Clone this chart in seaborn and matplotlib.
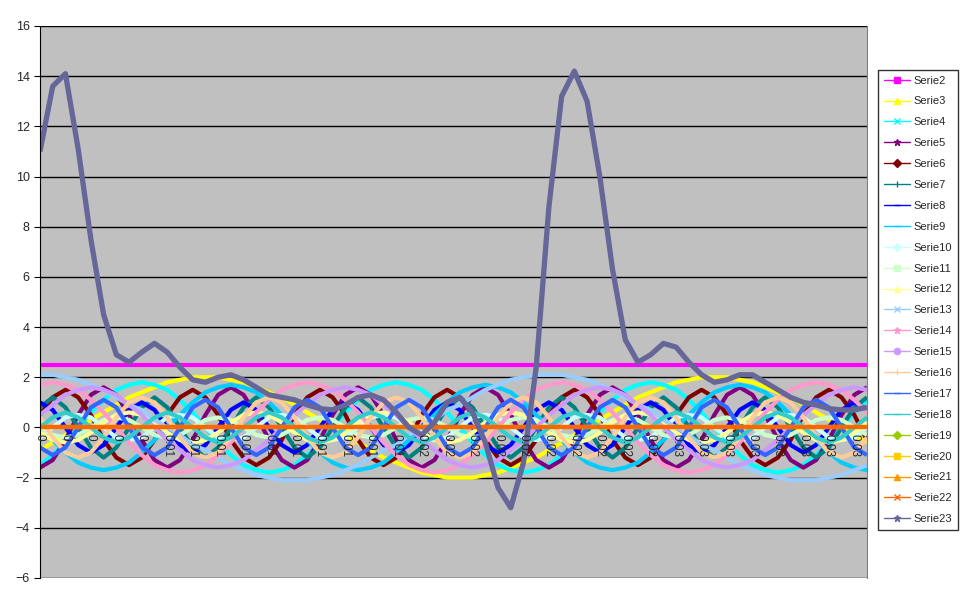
import math
import numpy as np
import pandas as pd
import matplotlib
matplotlib.use("Agg")
import matplotlib.pyplot as plt
from matplotlib.lines import Line2D
import seaborn as sns

sns.set_style("white")
plt.rcParams['font.family'] = ['Liberation Sans', 'DejaVu Sans']

n_points = 66
time_step = 0.0005

serie2 = [2.5] * 66
serie3 = [-0.9,-0.6,-0.3,0,0.3,0.6,0.9,1.2,1.4,1.6,1.8,1.9,2.0,
          2.0,2.0,1.9,1.8,1.6,1.4,1.2,0.9,0.6,0.3,0,-0.3,-0.6,-0.9,-1.2,-1.4,-1.6,-1.8,-1.9,-2.0,
          -2.0,-2.0,-1.9,-1.8,-1.6,-1.4,-1.2,-0.9,-0.6,-0.3,0,0.3,0.6,0.9,1.2,1.4,1.6,1.8,1.9,2.0,
          2.0,2.0,1.9,1.8,1.6,1.4,1.2,0.9,0.6,0.3,0,-0.3,-0.6]
serie4 = [-1.5,-1.1,-0.6,0,0.6,1.1,1.5,1.7,
          1.8,1.7,1.5,1.1,0.6,0,-0.6,-1.1,-1.5,-1.7,-1.8,-1.7,-1.5,-1.1,-0.6,0,0.6,1.1,1.5,1.7,
          1.8,1.7,1.5,1.1,0.6,0,-0.6,-1.1,-1.5,-1.7,-1.8,-1.7,-1.5,-1.1,-0.6,0,0.6,1.1,1.5,1.7,
          1.8,1.7,1.5,1.1,0.6,0,-0.6,-1.1,-1.5,-1.7,-1.8,-1.7,-1.5,-1.1,-0.6,0,0.6,1.1]
serie5 = [-1.6,-1.3,-0.5,0.5,1.3,
          1.6,1.3,0.5,-0.5,-1.3,-1.6,-1.3,-0.5,0.5,1.3,
          1.6,1.3,0.5,-0.5,-1.3,-1.6,-1.3,-0.5,0.5,1.3,
          1.6,1.3,0.5,-0.5,-1.3,-1.6,-1.3,-0.5,0.5,1.3,
          1.6,1.3,0.5,-0.5,-1.3,-1.6,-1.3,-0.5,0.5,1.3,
          1.6,1.3,0.5,-0.5,-1.3,-1.6,-1.3,-0.5,0.5,1.3,
          1.6,1.3,0.5,-0.5,-1.3,-1.6,-1.3,-0.5,0.5,1.3,
          1.6]
serie6 = [0.5,1.2,
          1.5,1.2,0.5,-0.5,-1.2,-1.5,-1.2,-0.5,0.5,1.2,
          1.5,1.2,0.5,-0.5,-1.2,-1.5,-1.2,-0.5,0.5,1.2,
          1.5,1.2,0.5,-0.5,-1.2,-1.5,-1.2,-0.5,0.5,1.2,
          1.5,1.2,0.5,-0.5,-1.2,-1.5,-1.2,-0.5,0.5,1.2,
          1.5,1.2,0.5,-0.5,-1.2,-1.5,-1.2,-0.5,0.5,1.2,
          1.5,1.2,0.5,-0.5,-1.2,-1.5,-1.2,-0.5,0.5,1.2,
          1.5,1.2,0.5,-0.5]
serie7 = [0.8,
          1.2,0.8,0,-0.8,-1.2,-0.8,0,0.8, 1.2,0.8,0,-0.8,-1.2,-0.8,0,0.8,
          1.2,0.8,0,-0.8,-1.2,-0.8,0,0.8, 1.2,0.8,0,-0.8,-1.2,-0.8,0,0.8,
          1.2,0.8,0,-0.8,-1.2,-0.8,0,0.8, 1.2,0.8,0,-0.8,-1.2,-0.8,0,0.8,
          1.2,0.8,0,-0.8,-1.2,-0.8,0,0.8, 1.2,0.8,0,-0.8,-1.2,-0.8,0,0.8,
          1.2]
serie8 = [1.0,0.7,0,-0.7,-1.0,-0.7,0,0.7, 1.0,0.7,0,-0.7,-1.0,-0.7,0,0.7,
          1.0,0.7,0,-0.7,-1.0,-0.7,0,0.7, 1.0,0.7,0,-0.7,-1.0,-0.7,0,0.7,
          1.0,0.7,0,-0.7,-1.0,-0.7,0,0.7, 1.0,0.7,0,-0.7,-1.0,-0.7,0,0.7,
          1.0,0.7,0,-0.7,-1.0,-0.7,0,0.7, 1.0,0.7,0,-0.7,-1.0,-0.7,0,0.7,
          1.0,0.7]
serie9 = [0,-0.5,-1.0,-1.4,-1.6,-1.7,-1.6,-1.4,-1.0,-0.5,0,0.5,1.0,1.4,1.6,
          1.7,1.6,1.4,1.0,0.5,0,-0.5,-1.0,-1.4,-1.6,-1.7,-1.6,-1.4,-1.0,-0.5,0,0.5,1.0,1.4,1.6,
          1.7,1.6,1.4,1.0,0.5,0,-0.5,-1.0,-1.4,-1.6,-1.7,-1.6,-1.4,-1.0,-0.5,0,0.5,1.0,1.4,1.6,
          1.7,1.6,1.4,1.0,0.5,0,-0.5,-1.0,-1.4,-1.6,-1.7]
serie10 = [-0.4,0,0.4,
           0.5,0.4,0,-0.4,-0.5,-0.4,0,0.4, 0.5,0.4,0,-0.4,-0.5,-0.4,0,0.4,
           0.5,0.4,0,-0.4,-0.5,-0.4,0,0.4, 0.5,0.4,0,-0.4,-0.5,-0.4,0,0.4,
           0.5,0.4,0,-0.4,-0.5,-0.4,0,0.4, 0.5,0.4,0,-0.4,-0.5,-0.4,0,0.4,
           0.5,0.4,0,-0.4,-0.5,-0.4,0,0.4,
           0.5,0.4,0,-0.4,-0.5,-0.4,0]
serie11 = [0,-0.3,-0.4,-0.3,0,0.3,
           0.4,0.3,0,-0.3,-0.4,-0.3,0,0.3, 0.4,0.3,0,-0.3,-0.4,-0.3,0,0.3,
           0.4,0.3,0,-0.3,-0.4,-0.3,0,0.3, 0.4,0.3,0,-0.3,-0.4,-0.3,0,0.3,
           0.4,0.3,0,-0.3,-0.4,-0.3,0,0.3, 0.4,0.3,0,-0.3,-0.4,-0.3,0,0.3,
           0.4,0.3,0,-0.3,-0.4,-0.3,0,0.3,
           0.4,0.3,0,-0.3]
serie12 = [-0.2,-0.5,-0.6,-0.5,-0.2,0.2,0.5,
           0.6,0.5,0.2,-0.2,-0.5,-0.6,-0.5,-0.2,0.2,0.5,
           0.6,0.5,0.2,-0.2,-0.5,-0.6,-0.5,-0.2,0.2,0.5,
           0.6,0.5,0.2,-0.2,-0.5,-0.6,-0.5,-0.2,0.2,0.5,
           0.6,0.5,0.2,-0.2,-0.5,-0.6,-0.5,-0.2,0.2,0.5,
           0.6,0.5,0.2,-0.2,-0.5,-0.6,-0.5,-0.2,0.2,0.5,
           0.6,0.5,0.2,-0.2,-0.5,-0.6,-0.5,-0.2,0.2]
serie13 = [2.1,2.1,2.0,1.9,1.7,1.5,1.2,0.9,0.7,0.3,0,-0.3,-0.7,-0.9,-1.2,-1.5,-1.7,-1.9,-2.0,-2.1,
           -2.1,-2.1,-2.0,-1.9,-1.7,-1.5,-1.2,-0.9,-0.7,-0.3,0,0.3,0.7,0.9,1.2,1.5,1.7,1.9,2.0,2.1,
           2.1,2.1,2.0,1.9,1.7,1.5,1.2,0.9,0.7,0.3,0,-0.3,-0.7,-0.9,-1.2,-1.5,-1.7,-1.9,-2.0,-2.1,
           -2.1,-2.1,-2.0,-1.9,-1.7,-1.5]
serie14 = [1.7,
           1.8,1.7,1.5,1.1,0.6,0,-0.6,-1.1,-1.5,-1.7,-1.8,-1.7,-1.5,-1.1,-0.6,0,0.6,1.1,1.5,1.7,
           1.8,1.7,1.5,1.1,0.6,0,-0.6,-1.1,-1.5,-1.7,-1.8,-1.7,-1.5,-1.1,-0.6,0,0.6,1.1,1.5,1.7,
           1.8,1.7,1.5,1.1,0.6,0,-0.6,-1.1,-1.5,-1.7,-1.8,-1.7,-1.5,-1.1,-0.6,0,0.6,1.1,1.5,1.7,
           1.8,1.7,1.5,1.1,0.6]
serie15 = [0.5,0.9,1.3,1.5,
           1.6,1.5,1.3,0.9,0.5,0,-0.5,-0.9,-1.3,-1.5,-1.6,-1.5,-1.3,-0.9,-0.5,0,0.5,0.9,1.3,1.5,
           1.6,1.5,1.3,0.9,0.5,0,-0.5,-0.9,-1.3,-1.5,-1.6,-1.5,-1.3,-0.9,-0.5,0,0.5,0.9,1.3,1.5,
           1.6,1.5,1.3,0.9,0.5,0,-0.5,-0.9,-1.3,-1.5,-1.6,-1.5,-1.3,-0.9,-0.5,0,0.5,0.9,1.3,1.5,
           1.6,1.5]
serie16 = [0.4,-0.4,-1.0,-1.2,-1.0,-0.4,0.4,1.0,
           1.2,1.0,0.4,-0.4,-1.0,-1.2,-1.0,-0.4,0.4,1.0,
           1.2,1.0,0.4,-0.4,-1.0,-1.2,-1.0,-0.4,0.4,1.0,
           1.2,1.0,0.4,-0.4,-1.0,-1.2,-1.0,-0.4,0.4,1.0,
           1.2,1.0,0.4,-0.4,-1.0,-1.2,-1.0,-0.4,0.4,1.0,
           1.2,1.0,0.4,-0.4,-1.0,-1.2,-1.0,-0.4,0.4,1.0,
           1.2,1.0,0.4,-0.4,-1.0,-1.2,-1.0,-0.4]
serie17 = [-0.8,-1.1,-0.8,0,0.8,
           1.1,0.8,0,-0.8,-1.1,-0.8,0,0.8, 1.1,0.8,0,-0.8,-1.1,-0.8,0,0.8,
           1.1,0.8,0,-0.8,-1.1,-0.8,0,0.8, 1.1,0.8,0,-0.8,-1.1,-0.8,0,0.8,
           1.1,0.8,0,-0.8,-1.1,-0.8,0,0.8, 1.1,0.8,0,-0.8,-1.1,-0.8,0,0.8,
           1.1,0.8,0,-0.8,-1.1,-0.8,0,0.8,
           1.1,0.8,0,-0.8,-1.1]
serie18 = [0,0.4,
           0.6,0.4,0,-0.4,-0.6,-0.4,0,0.4, 0.6,0.4,0,-0.4,-0.6,-0.4,0,0.4,
           0.6,0.4,0,-0.4,-0.6,-0.4,0,0.4, 0.6,0.4,0,-0.4,-0.6,-0.4,0,0.4,
           0.6,0.4,0,-0.4,-0.6,-0.4,0,0.4, 0.6,0.4,0,-0.4,-0.6,-0.4,0,0.4,
           0.6,0.4,0,-0.4,-0.6,-0.4,0,0.4, 0.6,0.4,0,-0.4,-0.6,-0.4,0,0.4]
serie19 = [0.0] * 66
serie20 = [0.0] * 66
serie21 = [0.0] * 66
serie22 = [0.0] * 66
serie23 = [11.0,13.6,14.1,11.1,7.5,4.5,2.9,2.6,3.0,3.35,3.0,2.4,1.9,1.8,2.0,2.1,1.9,1.6,1.3,1.2,
           1.1,0.9,0.75,0.7,0.9,1.2,1.3,1.1,0.6,0.0,-0.3,0.2,1.0,1.2,0.6,-0.6,-2.4,-3.2,-1.4,2.4,
           8.8,13.2,14.2,13.0,10.0,6.3,3.5,2.6,2.9,3.35,3.2,2.6,2.1,1.8,1.9,2.1,2.1,1.8,1.5,1.2,
           1.0,0.9,0.75,0.7,0.7,0.8]

series_names = ["Serie%d" % k for k in range(2, 24)]
series_values = [serie2, serie3, serie4, serie5, serie6, serie7, serie8, serie9, serie10, serie11,
                 serie12, serie13, serie14, serie15, serie16, serie17, serie18, serie19, serie20,
                 serie21, serie22, serie23]
colors = ["#FF00FF", "#FFFF00", "#00FFFF", "#800080", "#800000", "#008080", "#0000FF", "#00CCFF",
          "#CCFFFF", "#CCFFCC", "#FFFF99", "#99CCFF", "#FF99CC", "#CC99FF", "#FFCC99", "#3366FF",
          "#33CCCC", "#99CC00", "#FFCC00", "#FF9900", "#FF6600", "#666699"]
markers = ["s", "^", "x", "*", "D", "|", "_", "_", "D", "s", "^", "x", "*", "o", "|", "_", "_",
           "D", "s", "^", "x", "*"]

idx = np.arange(n_points)
times = idx * time_step
tick_labels = ["%g" % (math.floor(t * 100 + 0.5 + 1e-9) / 100) for t in times]

fig = plt.figure(figsize=(9.7, 6.04), dpi=100)
fig.patch.set_facecolor("white")
ax = fig.add_axes([40 / 970, 26 / 604, 827 / 970, 552 / 604])
ax.set_facecolor("#C0C0C0")

for name, vals, col in zip(series_names, series_values, colors):
    lw = 3.8 if name == "Serie23" else 3.0
    sns.lineplot(x=idx, y=vals, color=col, lw=lw, ax=ax, legend=False,
                 solid_capstyle="butt", solid_joinstyle="round")

ax.set_xlim(0, n_points - 1)
ax.set_ylim(-6, 16)
ax.set_yticks(range(-6, 17, 2))
ax.yaxis.grid(True, color="black", lw=1)
ax.set_axisbelow(True)
ax.tick_params(axis="y", labelsize=9, length=4, direction="out", left=True, color="black")
ax.set_xticks([])
for i in idx[::2]:
    ax.text(i, -0.25, tick_labels[i], rotation=270, ha="center", va="top",
            fontsize=8.5, rotation_mode="default")
ax.axhline(0, color="black", lw=1, zorder=0.5)
ax.spines["bottom"].set_visible(False)
ax.spines["top"].set_visible(False)
ax.spines["left"].set_color("black")
ax.spines["right"].set_color("#808080")
ax.set_xlabel("")
ax.set_ylabel("")

handles = [Line2D([0], [0], color=c, lw=1.0, marker=m, markersize=4.5, markeredgewidth=1.0)
           for c, m in zip(colors, markers)]
leg = fig.legend(handles, series_names, loc="upper left",
                 bbox_to_anchor=(878 / 970, 1 - 70 / 604), fontsize=8,
                 frameon=True, fancybox=False, edgecolor="black", labelspacing=0.98,
                 handlelength=2.4, borderpad=0.5, handletextpad=0.3, borderaxespad=0)
leg.get_frame().set_linewidth(1)

fig.savefig("out.png", dpi=100)
